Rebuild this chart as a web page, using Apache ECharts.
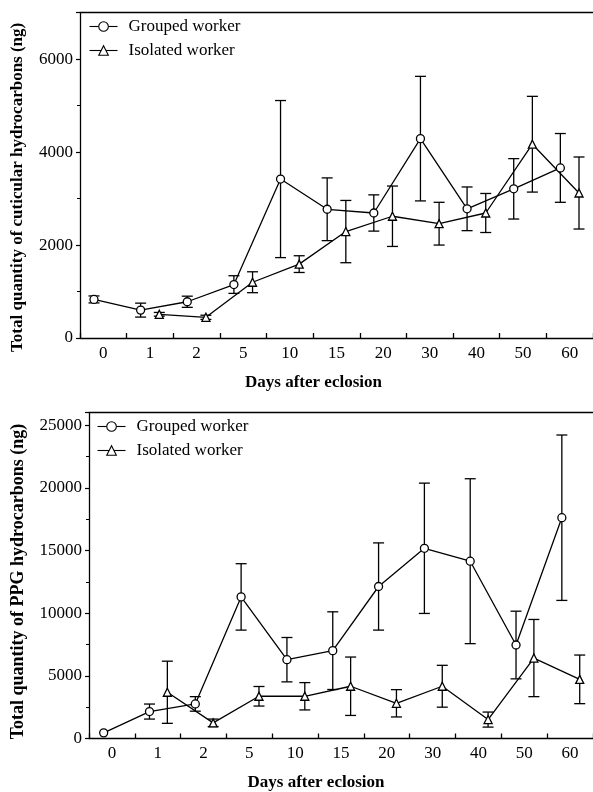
<!DOCTYPE html>
<html>
<head>
<meta charset="utf-8">
<script src="https://cdn.jsdelivr.net/npm/echarts@6/dist/echarts.min.js"></script>
<style>
html,body{margin:0;padding:0;background:#fff;}
#chart{width:593px;height:792px;}
</style>
</head>
<body>
<div id="chart"></div>
<script>
const categories = ['0','1','2','5','10','15','20','30','40','50','60'];

const cuticYTicks = [0, 2000, 4000, 6000];
const cuticGroupedMean = [830, 600, 780, 1150, 3420, 2770, 2690, 4290, 2780, 3210, 3660];
const cuticGroupedErr  = [75, 150, 120, 190, 1690, 675, 390, 1340, 470, 650, 740];
const cuticIsolatedMean = [null, 510, 445, 1200, 1590, 2290, 2620, 2460, 2690, 4170, 3120];
const cuticIsolatedErr  = [null, 40, 45, 225, 180, 670, 650, 460, 420, 1030, 775];

const ppgYTicks = [0, 5000, 10000, 15000, 20000, 25000];
const ppgGroupedMean = [450, 2150, 2760, 11300, 6290, 7010, 12130, 15180, 14150, 7460, 17620];
const ppgGroupedErr  = [null, 600, 580, 2650, 1770, 3100, 3480, 5200, 6580, 2700, 6600];
const ppgIsolatedMean = [null, 3690, 1250, 3370, 3370, 4170, 2810, 4170, 1510, 6420, 4720];
const ppgIsolatedErr  = [null, 2480, 300, 780, 1090, 2330, 1090, 1670, 600, 3080, 1940];

const FONT = '"Liberation Serif", "Times New Roman", serif';
const BLACK = '#000';

function pts(mean, dodge) {
  const out = [];
  mean.forEach((v, i) => { if (v != null) out.push([i + dodge, v]); });
  return out;
}
function errs(mean, err, dodge) {
  const out = [];
  mean.forEach((v, i) => { if (v != null && err[i] != null) out.push([i + dodge, v - err[i], v + err[i]]); });
  return out;
}
function errRender(params, api) {
  const x = api.value(0);
  const lo = api.coord([x, api.value(1)]);
  const hi = api.coord([x, api.value(2)]);
  const hw = 5.5;
  const style = { stroke: BLACK, lineWidth: 1.3, fill: null };
  return {
    type: 'group',
    children: [
      { type: 'line', shape: { x1: hi[0], y1: hi[1], x2: lo[0], y2: lo[1] }, style: style },
      { type: 'line', shape: { x1: hi[0] - hw, y1: hi[1], x2: hi[0] + hw, y2: hi[1] }, style: style },
      { type: 'line', shape: { x1: lo[0] - hw, y1: lo[1], x2: lo[0] + hw, y2: lo[1] }, style: style }
    ]
  };
}

function catAxis(gridIndex, name, gap, padRight) {
  return {
    type: 'category', gridIndex: gridIndex, data: categories, boundaryGap: true, position: 'bottom',
    axisLine: { onZero: false, lineStyle: { color: BLACK, width: 1.3 } },
    axisTick: { show: true, inside: true, length: 5, alignWithLabel: false, lineStyle: { color: BLACK, width: 1.3 } },
    axisLabel: { color: BLACK, fontFamily: FONT, fontSize: 17, margin: 7 },
    splitLine: { show: false },
    name: name, nameLocation: 'middle', nameGap: gap,
    nameTextStyle: { color: BLACK, fontFamily: FONT, fontSize: 17, fontWeight: 'bold', padding: [0, padRight, 0, 0] }
  };
}
function valXAxis(gridIndex) {
  return {
    type: 'value', gridIndex: gridIndex, min: -0.5, max: categories.length - 0.5, position: 'top',
    axisLine: { show: true, onZero: false, lineStyle: { color: BLACK, width: 1.3 } },
    axisTick: { show: false }, axisLabel: { show: false }, splitLine: { show: false }
  };
}
function valYAxis(gridIndex, ticks, max, name, gap, pad, nameSize) {
  return {
    type: 'value', gridIndex: gridIndex, min: ticks[0], max: max, interval: ticks[1] - ticks[0],
    axisLine: { show: true, onZero: false, lineStyle: { color: BLACK, width: 1.3 } },
    axisTick: { show: true, inside: false, length: 4, lineStyle: { color: BLACK, width: 1.2 } },
    minorTick: { show: true, splitNumber: 2, length: 3, lineStyle: { color: BLACK, width: 1 } },
    axisLabel: { color: BLACK, fontFamily: FONT, fontSize: 17, margin: 7, showMaxLabel: false,
      formatter: v => (ticks.indexOf(v) >= 0 ? String(v) : '') },
    splitLine: { show: false },
    name: name, nameLocation: 'middle', nameGap: gap,
    nameTextStyle: { color: BLACK, fontFamily: FONT, fontSize: nameSize, fontWeight: 'bold', padding: pad }
  };
}
function lineSeries(name, xi, yi, data, symbol, size) {
  return {
    type: 'line', name: name, xAxisIndex: xi, yAxisIndex: yi, data: data,
    symbol: symbol, symbolSize: size, z: 5,
    lineStyle: { color: BLACK, width: 1.3 },
    itemStyle: { color: '#fff', borderColor: BLACK, borderWidth: 1.3 },
    emphasis: { disabled: true }, animation: false
  };
}
function errSeries(xi, yi, data) {
  return { type: 'custom', xAxisIndex: xi, yAxisIndex: yi, data: data, renderItem: errRender, z: 2, silent: true, animation: false };
}
function legend(left, top) {
  return {
    left: left, top: top, orient: 'vertical', itemWidth: 28, itemHeight: 12, itemGap: 7,
    data: ['Grouped worker', 'Isolated worker'],
    lineStyle: { width: 1.1 },
    itemStyle: { borderWidth: 1.1 },
    textStyle: { color: BLACK, fontFamily: FONT, fontSize: 17, padding: [0, 0, 0, 6] },
    selectedMode: false
  };
}

const chart = echarts.init(document.getElementById('chart'), null, { renderer: 'canvas' });
chart.setOption({
  backgroundColor: '#fff',
  animation: false,
  grid: [
    { left: 80, top: 12.7, width: 515, height: 325.3, show: false },
    { left: 89, top: 412.7, width: 506, height: 326.3, show: false }
  ],
  legend: [legend(84, 13), legend(92, 413)],
  xAxis: [
    catAxis(0, 'Days after eclosion', 36.5, 46),
    valXAxis(0),
    catAxis(1, 'Days after eclosion', 35.5, 50),
    valXAxis(1)
  ],
  yAxis: [
    valYAxis(0, cuticYTicks, 7000, 'Total quantity of cuticular hydrocarbons (ng)', 54, [0, 24, 0, 0], 17),
    valYAxis(1, ppgYTicks, 26000, 'Total quantity of PPG hydrocarbons (ng)', 62, [0, 12, 0, 0], 18)
  ],
  series: [
    errSeries(1, 0, errs(cuticGroupedMean, cuticGroupedErr, -0.2)),
    errSeries(1, 0, errs(cuticIsolatedMean, cuticIsolatedErr, 0.2)),
    lineSeries('Grouped worker', 1, 0, pts(cuticGroupedMean, -0.2), 'circle', 8),
    lineSeries('Isolated worker', 1, 0, pts(cuticIsolatedMean, 0.2), 'triangle', 8),
    errSeries(3, 1, errs(ppgGroupedMean, ppgGroupedErr, -0.18)),
    errSeries(3, 1, errs(ppgIsolatedMean, ppgIsolatedErr, 0.21)),
    lineSeries('Grouped worker', 3, 1, pts(ppgGroupedMean, -0.18), 'circle', 8),
    lineSeries('Isolated worker', 3, 1, pts(ppgIsolatedMean, 0.21), 'triangle', 8)
  ]
});
</script>
</body>
</html>
